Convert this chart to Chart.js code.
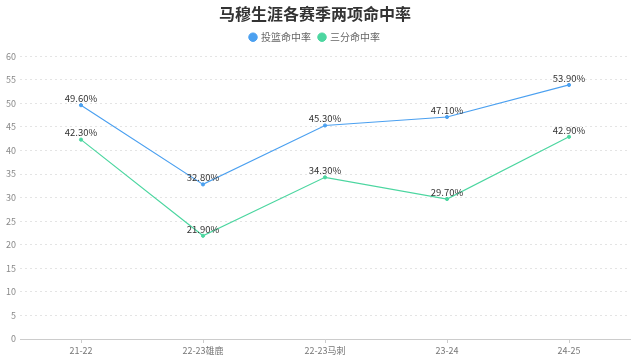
<!DOCTYPE html>
<html><head><meta charset="utf-8">
<script src="https://cdn.jsdelivr.net/npm/chart.js@4/dist/chart.umd.min.js"></script>
<style>html,body{margin:0;padding:0;background:#fff}#wrap{width:640px;height:361px}</style>
</head><body><div id="wrap"><canvas id="c" width="640" height="361"></canvas></div>
<script>
const categories = ['21-22', '22-23雄鹿', '22-23马刺', '23-24', '24-25'];
const fgPct = [49.6, 32.8, 45.3, 47.1, 53.9];
const threePct = [42.3, 21.9, 34.3, 29.7, 42.9];
const seriesNames = ['投篮命中率', '三分命中率'];
const FONT = '"Noto Sans CJK SC", "Noto Sans", sans-serif';

const labelPlugin = {
  id: 'valLabels',
  afterDatasetsDraw(chart) {
    const ctx = chart.ctx;
    ctx.save();
    ctx.font = '9.5px ' + FONT;
    ctx.fillStyle = '#333';
    ctx.textAlign = 'center';
    ctx.textBaseline = 'bottom';
    chart.data.datasets.forEach((ds, i) => {
      chart.getDatasetMeta(i).data.forEach((pt, j) => {
        ctx.fillText(ds.data[j].toFixed(2) + '%', pt.x, pt.y - 2);
      });
    });
    ctx.restore();
  }
};

const legendSpacer = {
  id: 'legendSpacer',
  beforeInit(chart) {
    const lg = chart.legend;
    const orig = lg.fit;
    lg.fit = function () { orig.call(this); this.height += 4; };
  }
};

new Chart(document.getElementById('c'), {
  type: 'line',
  data: {
    labels: categories,
    datasets: [
      { label: seriesNames[0], data: fgPct, borderColor: '#4ba0f0', backgroundColor: '#4ba0f0', borderWidth: 1.2, pointRadius: 1.6, pointHoverRadius: 1.6, pointBorderWidth: 1, tension: 0 },
      { label: seriesNames[1], data: threePct, borderColor: '#4cd6a0', backgroundColor: '#4cd6a0', borderWidth: 1.2, pointRadius: 1.6, pointHoverRadius: 1.6, pointBorderWidth: 1, tension: 0 }
    ]
  },
  options: {
    responsive: false,
    animation: false,
    devicePixelRatio: 1,
    layout: { padding: { left: 0, right: 10, top: 0, bottom: 0 } },
    plugins: {
      title: { display: true, text: '马穆生涯各赛季两项命中率', color: '#333', font: { family: FONT, size: 16, weight: 'bold' }, padding: { top: 4, bottom: 1 } },
      legend: { display: true, labels: { usePointStyle: true, pointStyle: 'circle', boxWidth: 6, boxHeight: 6, color: '#666', font: { family: FONT, size: 10 }, padding: 8 } },
      tooltip: { enabled: false }
    },
    scales: {
      x: {
        offset: true,
        grid: { color: 'rgba(0,0,0,0)', tickColor: '#ccc', tickLength: 4, offset: false },
        border: { color: '#ccc' },
        ticks: { color: '#777', font: { family: FONT, size: 9 }, padding: 2, maxRotation: 0 },
        afterFit(s) { s.height = 22; }
      },
      y: {
        min: 0, max: 60,
        ticks: { stepSize: 5, color: '#888', font: { family: FONT, size: 9 }, padding: 4 },
        grid: { color: '#e4e4e4', drawTicks: false },
        border: { display: false, dash: [2, 3] },
        afterFit(s) { s.width = 20; }
      }
    }
  },
  plugins: [labelPlugin, legendSpacer]
});
</script></body></html>
